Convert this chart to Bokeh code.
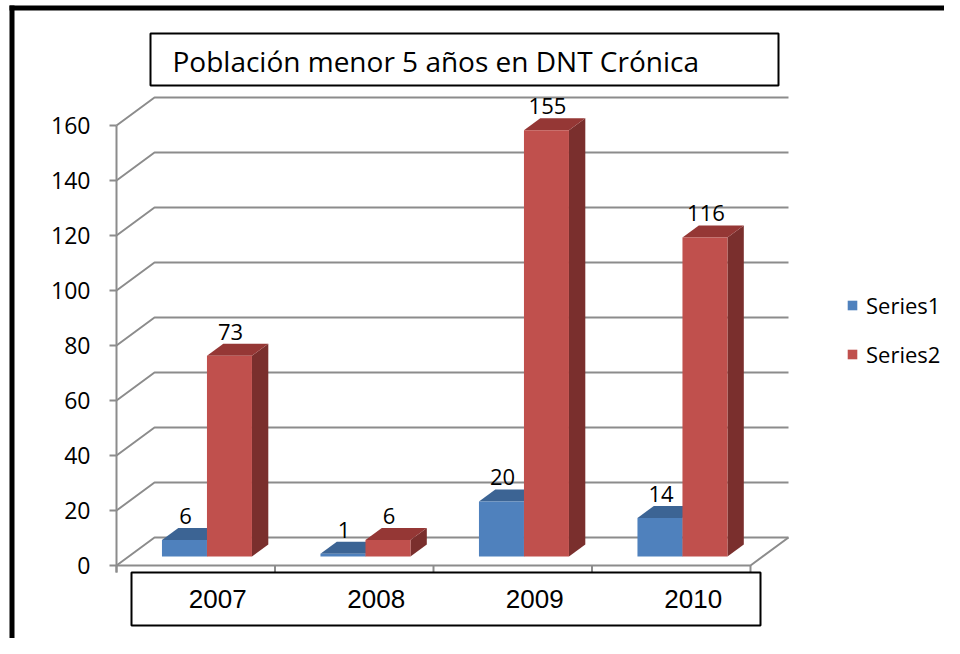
from bokeh.plotting import figure
from bokeh.models import Range1d, Legend, LegendItem
from bokeh.core.properties import value
from bokeh.embed import file_html
from bokeh.resources import INLINE

# ---------------- data ----------------
categories = ["2007", "2008", "2009", "2010"]
series1 = [6, 1, 20, 14]
series2 = [73, 6, 155, 116]
series_names = ["Series1", "Series2"]
y_ticks = [0, 20, 40, 60, 80, 100, 120, 140, 160]
title_text = "Población menor 5 años en DNT Crónica"

# ---------------- layout constants ----------------
W, H = 944, 638
XPX = 158.5      # pixels per category
YPX = 2.75       # pixels per value unit
X0, Y0 = 116, 565  # pixel position of (x=0, y=0)

def fx(px):
    return (px - X0) / XPX

def fy(py):
    return (Y0 - py) / YPX

def dxp(px):
    return px / XPX

def dyp(px):
    return px / YPX

DEP_X, DEP_Y = dxp(38), dyp(28)     # wall / floor depth
F0 = 9 / 28                         # depth of bar front face
BD = 0.43                           # bar depth (fraction)
BW = dxp(45)                        # bar width
OFF_X, OFF_Y = F0 * DEP_X - dxp(1), F0 * DEP_Y
BDX, BDY = BD * DEP_X, BD * DEP_Y
NCAT = len(categories)

GRID = "#8c8c8c"
BLUE = ("#4F81BD", "#3C6494", "#385D8A")   # front, top, side
RED = ("#C0504D", "#953735", "#7A2F2D")

p = figure(width=W, height=H, output_backend="svg", toolbar_location=None,
           x_axis_type=None, y_axis_type=None,
           x_range=Range1d(fx(0), fx(W)), y_range=Range1d(fy(H), fy(0)),
           min_border=0, outline_line_color=None)
p.xgrid.visible = False
p.ygrid.visible = False
p.background_fill_color = "white"
p.border_fill_color = "white"

# ---------------- outer black frame ----------------
p.quad(left=[fx(9)], right=[fx(14)], top=[fy(5)], bottom=[fy(H)],
       fill_color="black", line_color=None)
p.quad(left=[fx(9)], right=[fx(W)], top=[fy(5)], bottom=[fy(10)],
       fill_color="black", line_color=None)

# ---------------- walls / gridlines ----------------
gx, gy = [], []
for t in y_ticks:
    gx.append([0, DEP_X, NCAT + DEP_X])
    gy.append([t, t + DEP_Y, t + DEP_Y])
p.multi_line(gx, gy, line_color=GRID, line_width=2)
# floor front + right edge
p.line([0, NCAT, NCAT + DEP_X], [0, 0, DEP_Y], line_color=GRID, line_width=2)
# front value axis
p.line([0, 0], [dyp(-7), y_ticks[-1]], line_color=GRID, line_width=2)
# value ticks
p.multi_line([[dxp(-7), 0] for _ in y_ticks], [[t, t] for t in y_ticks],
             line_color=GRID, line_width=2)
# category ticks
p.multi_line([[i, i] for i in range(NCAT + 1)], [[0, dyp(-7)] for _ in range(NCAT + 1)],
             line_color=GRID, line_width=2)
# value tick labels
p.text(x=[dxp(-26)] * len(y_ticks), y=y_ticks, text=[str(t) for t in y_ticks],
       text_align="right", text_baseline="middle",
       text_font=value("Open Sans"), text_font_size="23px", text_color="black")

# ---------------- bars ----------------
def draw_series(vals, shift, colors):
    L, R, T, B = [], [], [], []
    tx, ty, sx, sy = [], [], [], []
    for i, v in enumerate(vals):
        l = i + 0.5 + shift * BW + OFF_X
        r = l + BW
        b = OFF_Y
        t = v + OFF_Y
        L.append(l); R.append(r); T.append(t); B.append(b)
        tx.append([l, r, r + BDX, l + BDX]); ty.append([t, t, t + BDY, t + BDY])
        sx.append([r, r + BDX, r + BDX, r]); sy.append([b, b + BDY, t + BDY, t])
    p.patches(sx, sy, fill_color=colors[2], line_color=None)
    p.patches(tx, ty, fill_color=colors[1], line_color=None)
    front = p.quad(left=L, right=R, top=T, bottom=B, fill_color=colors[0], line_color=None)
    p.text(x=[(l + r) / 2 + dxp(1) for l, r in zip(L, R)], y=[t + BDY for t in T],
           text=[str(v) for v in vals], text_align="center", text_baseline="bottom",
           y_offset=-4,
           text_font=value("Open Sans"), text_font_size="22px", text_color="black")
    return front

r1 = draw_series(series1, -1, BLUE)
r2 = draw_series(series2, 0, RED)

# ---------------- category label box ----------------
p.quad(left=[fx(131)], right=[fx(760)], top=[fy(572)], bottom=[fy(625)],
       fill_color="white", line_color="black", line_width=2)
p.text(x=[i + 0.5 + dxp(22) for i in range(NCAT)], y=[fy(598)] * NCAT, text=categories,
       text_align="center", text_baseline="middle",
       text_font=value("Liberation Sans"), text_font_size="26px", text_color="black")

# ---------------- title box ----------------
p.quad(left=[fx(150)], right=[fx(778)], top=[fy(33)], bottom=[fy(85)],
       fill_color="white", line_color="black", line_width=2)
p.text(x=[fx(172)], y=[fy(60)], text=[title_text], text_align="left", text_baseline="middle",
       text_font=value("Open Sans"), text_font_size="28px", text_color="black")

# ---------------- legend ----------------
legend = Legend(items=[LegendItem(label=series_names[0], renderers=[r1]),
                       LegendItem(label=series_names[1], renderers=[r2])],
                location=(846, 269), orientation="vertical",
                glyph_width=12, glyph_height=12, label_height=24, spacing=19,
                label_standoff=8, padding=0, margin=0,
                border_line_color=None, background_fill_alpha=0,
                label_text_font="Open Sans", label_text_font_size="22px",
                label_text_color="black")
p.add_layout(legend)

open("out.html", "w").write(file_html(p, INLINE))
